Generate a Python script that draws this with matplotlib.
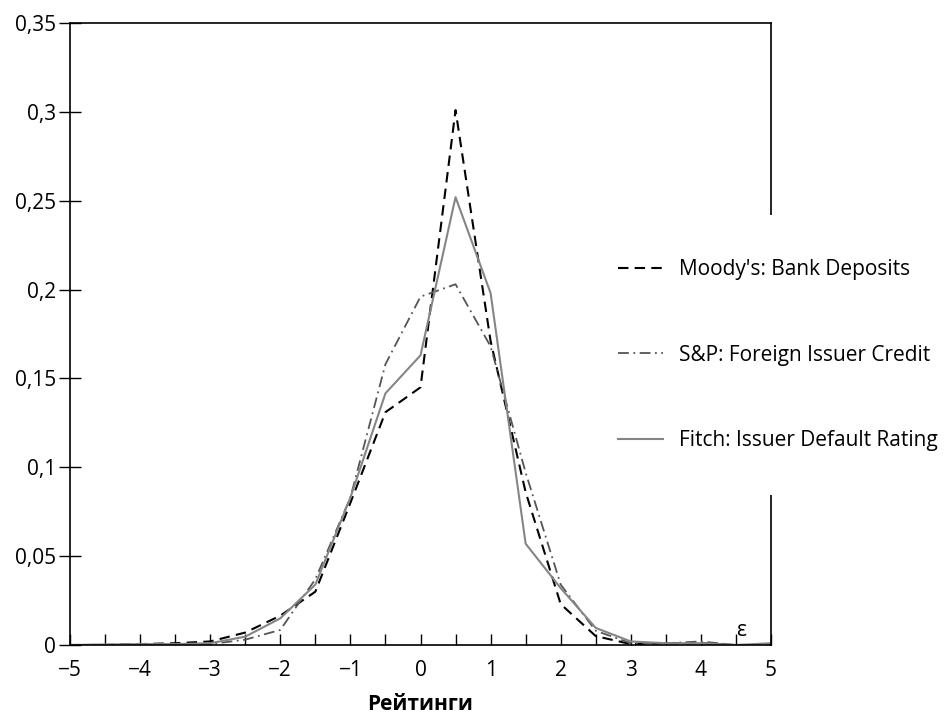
import matplotlib
matplotlib.use("Agg")
import matplotlib.pyplot as plt
from matplotlib.ticker import MultipleLocator, FuncFormatter

plt.rcParams['font.family'] = ['Open Sans', 'DejaVu Sans']

x_vals = [-5, -4.5, -4, -3.5, -3, -2.5, -2, -1.5, -1, -0.5, 0,
          0.5, 1, 1.5, 2, 2.5, 3, 3.5, 4, 4.5, 5]
moodys = [0.0, 0.0, 0.0005, 0.001, 0.002, 0.007, 0.0165, 0.030, 0.080, 0.131, 0.145,
          0.301, 0.171, 0.086, 0.023, 0.005, 0.0005, 0.001, 0.001, 0.0, 0.0]
sp = [0.0, 0.0, 0.0, 0.0, 0.0005, 0.003, 0.0085, 0.037, 0.083, 0.158, 0.196,
      0.203, 0.168, 0.097, 0.034, 0.008, 0.001, 0.001, 0.002, 0.0, 0.0]
fitch = [0.0, 0.0003, 0.0005, 0.0005, 0.001, 0.0047, 0.015, 0.034, 0.083, 0.1416, 0.163,
         0.252, 0.198, 0.057, 0.032, 0.0096, 0.002, 0.001, 0.001, 0.0, 0.001]
labels = ["Moody's: Bank Deposits", "S&P: Foreign Issuer Credit", "Fitch: Issuer Default Rating"]
y_ticks = [0, 0.05, 0.1, 0.15, 0.2, 0.25, 0.3, 0.35]
y_tick_labels = ["0", "0,05", "0,1", "0,15", "0,2", "0,25", "0,3", "0,35"]
x_label = "Рейтинги"
annot = "ε"

fig = plt.figure(figsize=(9.46, 7.28), dpi=100)
ax = fig.add_axes([70/946, 83/728, 701/946, 622/728])

ax.plot(x_vals, moodys, color='black', lw=1.5, linestyle=(0, (5, 3)), label=labels[0])
ax.plot(x_vals, sp, color='#555555', lw=1.3, linestyle=(0, (6, 2.5, 1, 2.5)), label=labels[1])
ax.plot(x_vals, fitch, color='#858585', lw=1.5, linestyle='-', label=labels[2])

ax.set_xlim(-5, 5)
ax.set_ylim(0, 0.35)
ax.xaxis.set_major_locator(MultipleLocator(1))
ax.xaxis.set_minor_locator(MultipleLocator(0.5))
ax.xaxis.set_major_formatter(FuncFormatter(lambda v, p: ("\u2212%d" % abs(v)) if v < 0 else "%d" % v))
ax.tick_params(axis='x', which='both', direction='in', length=8, width=1, labelsize=15, pad=11)
ax.set_yticks(y_ticks)
ax.set_yticklabels(y_tick_labels)
ax.tick_params(axis='y', direction='inout', length=16, width=1, labelsize=15, pad=2)

for s in ax.spines.values():
    s.set_linewidth(1.2)
    s.set_color('black')

ax.text(4.5, 0.002, annot, fontsize=15, ha='left', va='bottom')
ax.set_xlabel(x_label, fontsize=15, fontweight='bold', labelpad=9)

leg = ax.legend(loc='center left', bbox_to_anchor=(574/946, 373/728), bbox_transform=fig.transFigure,
                frameon=True, fancybox=False, edgecolor='white', facecolor='white', framealpha=1,
                fontsize=15, handlelength=2.15, handletextpad=0.8, labelspacing=3.1,
                borderpad=2.1, borderaxespad=0)
leg.get_frame().set_linewidth(0)

fig.savefig("out.png", dpi=100)
